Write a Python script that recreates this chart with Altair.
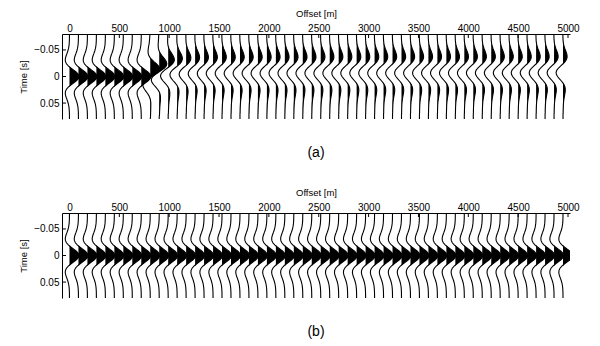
import altair as alt
import numpy as np
import pandas as pd

# sample times of the wavelet [s]
time_s = [-0.080, -0.076, -0.072, -0.068, -0.064, -0.060, -0.056, -0.052, -0.048, -0.044,
          -0.040, -0.036, -0.032, -0.028, -0.024, -0.020, -0.016, -0.012, -0.008, -0.004,
          0.000, 0.004, 0.008, 0.012, 0.016, 0.020, 0.024, 0.028, 0.032, 0.036,
          0.040, 0.044, 0.048, 0.052, 0.056, 0.060, 0.064, 0.068, 0.072, 0.076, 0.080]

# zero-phase wavelet samples
wavelet_zero = [-0.0010, -0.0023, -0.0051, -0.0106, -0.0210, -0.0392, -0.0689, -0.1135, -0.1748, -0.2511,
                -0.3337, -0.4061, -0.4450, -0.4233, -0.3195, -0.1261, 0.1418, 0.4452, 0.7272, 0.9275,
                1.0000, 0.9275, 0.7272, 0.4452, 0.1418, -0.1261, -0.3195, -0.4233, -0.4450, -0.4061,
                -0.3337, -0.2511, -0.1748, -0.1135, -0.0689, -0.0392, -0.0210, -0.0106, -0.0051, -0.0023, -0.0010]

# quadrature (90 degree) wavelet samples
wavelet_quad = [0.030, 0.037, 0.046, 0.058, 0.070, 0.085, 0.103, 0.123, 0.121, 0.097,
                0.038, -0.065, -0.216, -0.398, -0.589, -0.745, -0.820, -0.782, -0.618, -0.340,
                0.000, 0.340, 0.618, 0.782, 0.820, 0.745, 0.589, 0.398, 0.216, 0.065,
                -0.038, -0.097, -0.121, -0.123, -0.103, -0.085, -0.070, -0.058, -0.046, -0.037, -0.030]

# trace offsets [m]
offsets_m = [0, 90, 180, 270, 360, 450, 540, 630, 720, 810, 900, 990, 1080, 1170, 1260, 1350,
             1440, 1530, 1620, 1710, 1800, 1890, 1980, 2070, 2160, 2250, 2340, 2430, 2520, 2610,
             2700, 2790, 2880, 2970, 3060, 3150, 3240, 3330, 3420, 3510, 3600, 3690, 3780, 3870,
             3960, 4050, 4140, 4230, 4320, 4410, 4500, 4590, 4680, 4770, 4860, 4950]

# panel (a): phase rotation [deg], early shift [4 ms samples] and amplitude per trace
phase_a_deg = [0, 0, 0, 0, 0, 0, 0, 0, 0, -60, -95, -115, -128, -135, -140, -142,
               -143, -144, -144, -145, -145, -145, -145, -146, -146, -146, -146, -146, -146, -147,
               -147, -147, -147, -147, -147, -147, -148, -148, -148, -148, -148, -148, -148, -148,
               -148, -149, -149, -149, -149, -149, -149, -149, -149, -150, -150, -150]
shift_a_samples = [0, 0, 0, 0, 0, 0, 0, 0, 0, 1, 2, 3, 3, 3, 3, 3,
                   3, 3, 3, 3, 3, 3, 3, 3, 3, 3, 3, 3, 3, 3,
                   3, 3, 3, 3, 3, 3, 3, 3, 3, 3, 3, 3, 3, 3,
                   3, 3, 3, 3, 3, 3, 3, 3, 3, 3, 3, 3]
amp_a = [1.0, 1.0, 1.0, 1.0, 1.0, 1.0, 1.0, 1.0, 1.0, 1.1, 1.0, 0.9, 0.82, 0.78, 0.76, 0.75,
         0.75, 0.75, 0.75, 0.75, 0.75, 0.75, 0.75, 0.75, 0.75, 0.75, 0.75, 0.75, 0.75, 0.75,
         0.75, 0.75, 0.75, 0.75, 0.75, 0.75, 0.75, 0.75, 0.75, 0.75, 0.75, 0.75, 0.75, 0.75,
         0.75, 0.75, 0.75, 0.75, 0.75, 0.75, 0.75, 0.75, 0.75, 0.75, 0.75, 0.75]
phase_b_deg = [0] * len(offsets_m)
shift_b_samples = [0] * len(offsets_m)
amp_b = [1.0] * len(offsets_m)

x_ticks = [0, 500, 1000, 1500, 2000, 2500, 3000, 3500, 4000, 4500, 5000]
y_ticks = [-0.05, 0, 0.05]

AMP_SCALE = 95.0  # metres per unit amplitude
FONT = "Liberation Sans"
N = len(time_s)


def sample(w, idx):
    return w[idx] if 0 <= idx < N else 0.0


def build(phases, shifts, amps):
    rows = []
    for k, off in enumerate(offsets_m):
        ph = np.deg2rad(phases[k])
        s = shifts[k]
        for j, t in enumerate(time_s):
            a = amps[k] * (np.cos(ph) * sample(wavelet_zero, j + s)
                           + np.sin(ph) * sample(wavelet_quad, j + s))
            rows.append({"trace": k, "j": j, "t": t,
                         "x": off + AMP_SCALE * a,
                         "x0": off,
                         "xf": off + AMP_SCALE * max(a, 0.0)})
    return pd.DataFrame(rows)


xscale = alt.Scale(domain=[-75, 5020], nice=False, zero=False)
yscale = alt.Scale(domain=[-0.08, 0.08], reverse=True, nice=False, zero=False)

xaxis = alt.Axis(orient="top", title="Offset [m]", values=x_ticks, format="d",
                 ticks=False, grid=False, labelPadding=0.5, titlePadding=5.5,
                 domainColor="black", labelFlush=False)
yaxis = alt.Axis(orient="left", title="Time [s]", values=y_ticks, format=".2~f",
                 ticks=False, grid=False, labelPadding=3, titlePadding=5,
                 domainColor="black")


def panel(phases, shifts, amps, label):
    df = build(phases, shifts, amps)
    base = alt.Chart(df)
    fill = base.mark_area(orient="horizontal", fill="black", fillOpacity=1, clip=True).encode(
        x=alt.X("x0:Q", scale=xscale, axis=xaxis),
        x2="xf:Q",
        y=alt.Y("t:Q", scale=yscale, axis=yaxis),
        detail="trace:N",
    )
    line = base.mark_line(color="black", strokeWidth=1.1, clip=True).encode(
        x=alt.X("x:Q", scale=xscale, axis=xaxis),
        y=alt.Y("t:Q", scale=yscale, axis=yaxis),
        detail="trace:N",
        order="j:Q",
    )
    tx = alt.Chart(pd.DataFrame({"v": x_ticks})).mark_rule(color="black", strokeWidth=1).encode(
        x=alt.X("v:Q", scale=xscale, axis=xaxis), y=alt.value(0), y2=alt.value(4))
    ty = alt.Chart(pd.DataFrame({"v": y_ticks})).mark_rule(color="black", strokeWidth=1).encode(
        y=alt.Y("v:Q", scale=yscale, axis=yaxis), x=alt.value(0), x2=alt.value(4))
    return alt.layer(line, fill, tx, ty).properties(
        width=508, height=85,
        title=alt.TitleParams(label, orient="bottom", frame="group", anchor="middle",
                              fontSize=14, fontWeight="normal", font=FONT, offset=27),
    )


chart = alt.vconcat(panel(phase_a_deg, shift_a_samples, amp_a, "(a)"),
                    panel(phase_b_deg, shift_b_samples, amp_b, "(b)"), spacing=27).properties(
    padding={"left": 10, "top": 0, "right": 5, "bottom": 0}
).configure_view(stroke=None).configure_axis(
    labelFont=FONT, titleFont=FONT, labelFontSize=10, titleFontSize=9.5,
    titleFontWeight="normal", labelColor="black", titleColor="black", domainWidth=1,
)

chart.save("out.html", embed_options={"renderer": "svg", "actions": False})
